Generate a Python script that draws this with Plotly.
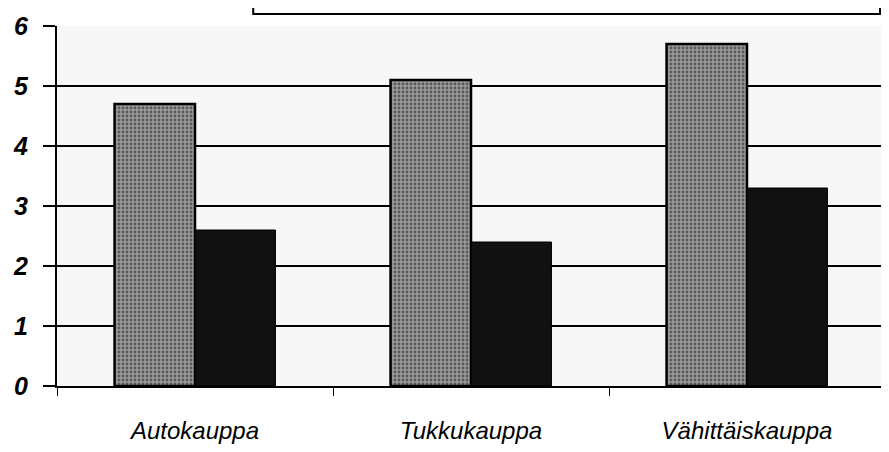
import plotly.graph_objects as go

categories = ["Autokauppa", "Tukkukauppa", "Vähittäiskauppa"]
series_light = [4.7, 5.1, 5.7]
series_dark = [2.6, 2.4, 3.3]
y_ticks = [0, 1, 2, 3, 4, 5, 6]

fig = go.Figure()
fig.add_trace(go.Bar(
    x=categories, y=series_light, name="",
    marker=dict(color="#7a7a7a", line=dict(color="black", width=2.5),
                pattern=dict(shape=".", fgcolor="#1a1a1a", bgcolor="#9a9a9a", size=4, solidity=0.4)),
    showlegend=False,
))
fig.add_trace(go.Bar(
    x=categories, y=series_dark, name="",
    marker=dict(color="#111111", line=dict(color="black", width=1)),
    showlegend=False,
))

fig.update_layout(
    width=881, height=444,
    margin=dict(l=49, r=4, t=16, b=66),
    barmode="group", bargap=0.417, bargroupgap=0,
    paper_bgcolor="white", plot_bgcolor="#f7f7f7",
    font=dict(family="Liberation Sans", color="black"),
    xaxis=dict(
        range=[-0.5, 2.5], showline=True, linecolor="black", linewidth=2,
        ticks="outside", tickson="boundaries", ticklen=8, tickcolor="black", tickwidth=1,
        tickfont=dict(family="Liberation Sans", size=24, style="italic"),
        ticklabelstandoff=22,
        showgrid=False,
    ),
    yaxis=dict(
        range=[0, 6], tickvals=y_ticks, showline=True, linecolor="black", linewidth=2,
        ticks="outside", ticklen=12, tickcolor="black", tickwidth=1.5,
        tickfont=dict(family="Liberation Sans", size=25, style="italic", weight="bold"),
        ticklabelstandoff=10,
        showgrid=True, gridcolor="black", gridwidth=1.5, zeroline=False,
    ),
    shapes=[dict(type="rect", xref="paper", yref="paper",
                 x0=0.237, x1=0.994, y0=1.033, y1=1.2,
                 line=dict(color="black", width=2), fillcolor="white", layer="above")],
)

fig.write_html("out.html")
